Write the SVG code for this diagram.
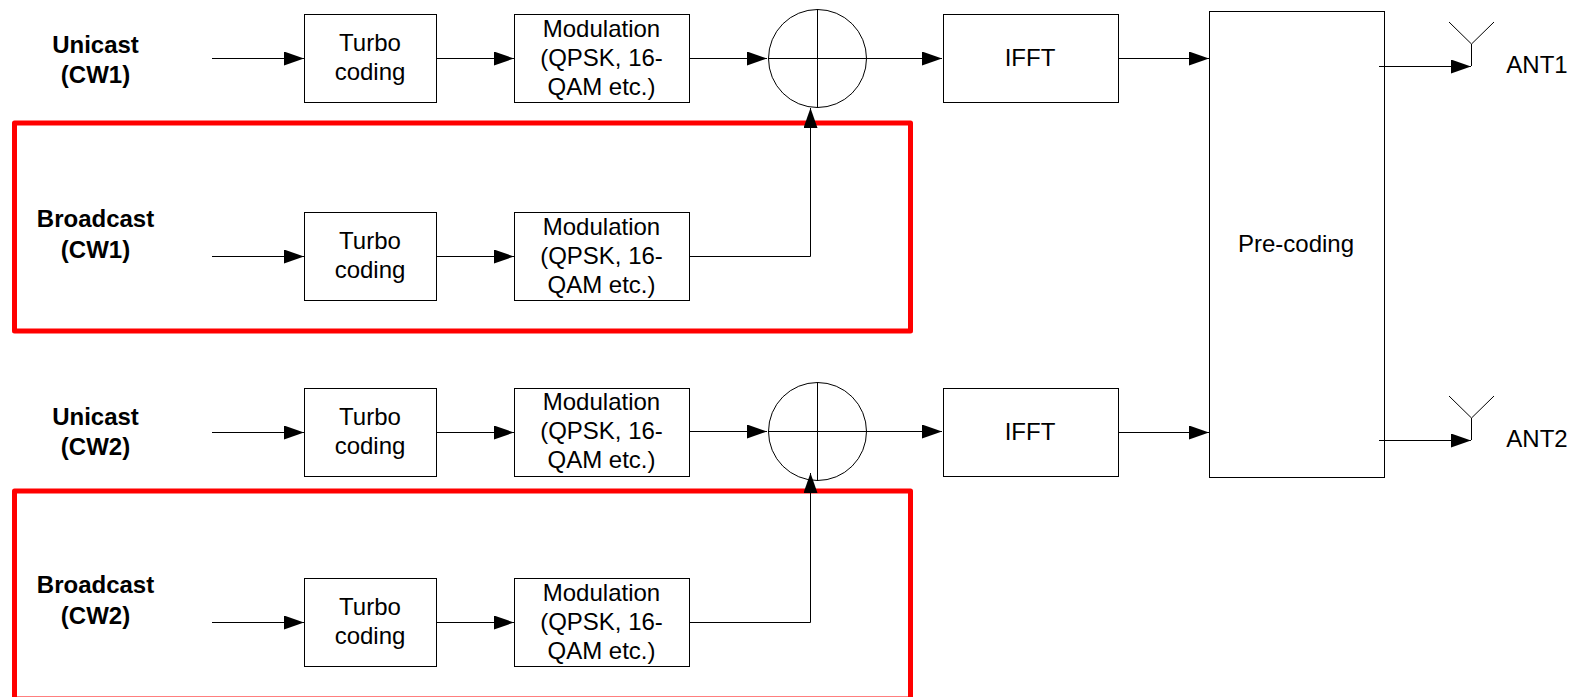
<svg xmlns="http://www.w3.org/2000/svg" width="1577" height="697" viewBox="0 0 1577 697">
<style>
.b{fill:#fff;stroke:#000;stroke-width:1}
.c{fill:none;stroke:#000;stroke-width:1}
.r{fill:none;stroke:#f00;stroke-width:5;stroke-linejoin:round}
text{font-family:"Liberation Sans",Arial,sans-serif;font-size:24px;text-anchor:middle;fill:#000}
.h{font-weight:bold;font-size:24px}
</style>
<defs>
<marker id="a" markerUnits="userSpaceOnUse" markerWidth="22" markerHeight="16" refX="20" refY="7" orient="auto"><path d="M0 0L20 7L0 14Z" fill="#000"/></marker>
</defs>
<g id="tc1"><rect class="b" x="304.500" y="14.500" width="132" height="88"/><text x="370" y="50.500">Turbo</text><text x="370" y="80">coding</text></g>
<g id="mod1"><rect class="b" x="514.500" y="14.500" width="175" height="88"/><text x="601.500" y="37">Modulation</text><text x="601.500" y="66">(QPSK, 16-</text><text x="601.500" y="95">QAM etc.)</text></g>
<g id="tc2"><rect class="b" x="304.500" y="212.500" width="132" height="88"/><text x="370" y="248.500">Turbo</text><text x="370" y="278">coding</text></g>
<g id="mod2"><rect class="b" x="514.500" y="212.500" width="175" height="88"/><text x="601.500" y="235">Modulation</text><text x="601.500" y="264">(QPSK, 16-</text><text x="601.500" y="293">QAM etc.)</text></g>
<g id="tc3"><rect class="b" x="304.500" y="388.500" width="132" height="88"/><text x="370" y="424.500">Turbo</text><text x="370" y="454">coding</text></g>
<g id="mod3"><rect class="b" x="514.500" y="388.500" width="175" height="88"/><text x="601.500" y="410">Modulation</text><text x="601.500" y="439">(QPSK, 16-</text><text x="601.500" y="468">QAM etc.)</text></g>
<g id="tc4"><rect class="b" x="304.500" y="578.500" width="132" height="88"/><text x="370" y="614.500">Turbo</text><text x="370" y="644">coding</text></g>
<g id="mod4"><rect class="b" x="514.500" y="578.500" width="175" height="88"/><text x="601.500" y="601">Modulation</text><text x="601.500" y="630">(QPSK, 16-</text><text x="601.500" y="659">QAM etc.)</text></g>
<g id="ifft1"><rect class="b" x="943.500" y="14.500" width="175" height="88"/><text x="1030" y="66">IFFT</text></g>
<g id="ifft2"><rect class="b" x="943.500" y="388.500" width="175" height="88"/><text x="1030" y="440">IFFT</text></g>
<g id="precoding"><rect class="b" x="1209.500" y="11.500" width="175" height="466"/><text x="1296" y="252">Pre-coding</text></g>
<g id="sum1"><circle class="b" cx="817.500" cy="58.500" r="49"/><path class="c" d="M768 58.500H867M817.500 9V108"/></g>
<g id="sum2"><circle class="b" cx="817.500" cy="431.500" r="49"/><path class="c" d="M768 431.500H867M817.500 382V481"/></g>
<g id="label-u1"><text class="h" x="95.500" y="53">Unicast</text><text class="h" x="95.500" y="83">(CW1)</text></g>
<g id="label-b1"><text class="h" x="95.500" y="227">Broadcast</text><text class="h" x="95.500" y="258">(CW1)</text></g>
<g id="label-u2"><text class="h" x="95.500" y="425">Unicast</text><text class="h" x="95.500" y="455">(CW2)</text></g>
<g id="label-b2"><text class="h" x="95.500" y="593">Broadcast</text><text class="h" x="95.500" y="624">(CW2)</text></g>
<g id="ant1"><path class="c" d="M1471.500 66V44M1449 22L1471.500 44L1494 22"/><text x="1537" y="73">ANT1</text></g>
<g id="ant2"><path class="c" d="M1471.500 440V418M1449 396L1471.500 418L1494 396"/><text x="1537" y="447">ANT2</text></g>
<rect id="group1" class="r" x="14.500" y="123" width="896" height="208"/>
<rect id="group2" class="r" x="14.500" y="491" width="896" height="208"/>
<g id="connectors">
<path class="c" marker-end="url(#a)" d="M212 58.500H304"/><path class="c" marker-end="url(#a)" d="M437 58.500H514"/><path class="c" marker-end="url(#a)" d="M689 58.500H767"/><path class="c" marker-end="url(#a)" d="M867 58.500H942"/><path class="c" marker-end="url(#a)" d="M1118 58.500H1209"/><path class="c" marker-end="url(#a)" d="M1379 66.500H1471"/>
<path class="c" marker-end="url(#a)" d="M212 256.500H304"/><path class="c" marker-end="url(#a)" d="M437 256.500H514"/><path class="c" marker-end="url(#a)" d="M689 256.500H810.500V108"/>
<path class="c" d="M804 127H816"/>
<path class="c" marker-end="url(#a)" d="M212 432.500H304"/><path class="c" marker-end="url(#a)" d="M437 432.500H514"/><path class="c" marker-end="url(#a)" d="M689 431.500H767"/><path class="c" marker-end="url(#a)" d="M867 431.500H942"/><path class="c" marker-end="url(#a)" d="M1118 432.500H1209"/><path class="c" marker-end="url(#a)" d="M1379 440.500H1471"/>
<path class="c" marker-end="url(#a)" d="M689 622.500H810.500V473"/><path class="c" marker-end="url(#a)" d="M212 622.500H304"/><path class="c" marker-end="url(#a)" d="M437 622.500H514"/>
</g>
</svg>
